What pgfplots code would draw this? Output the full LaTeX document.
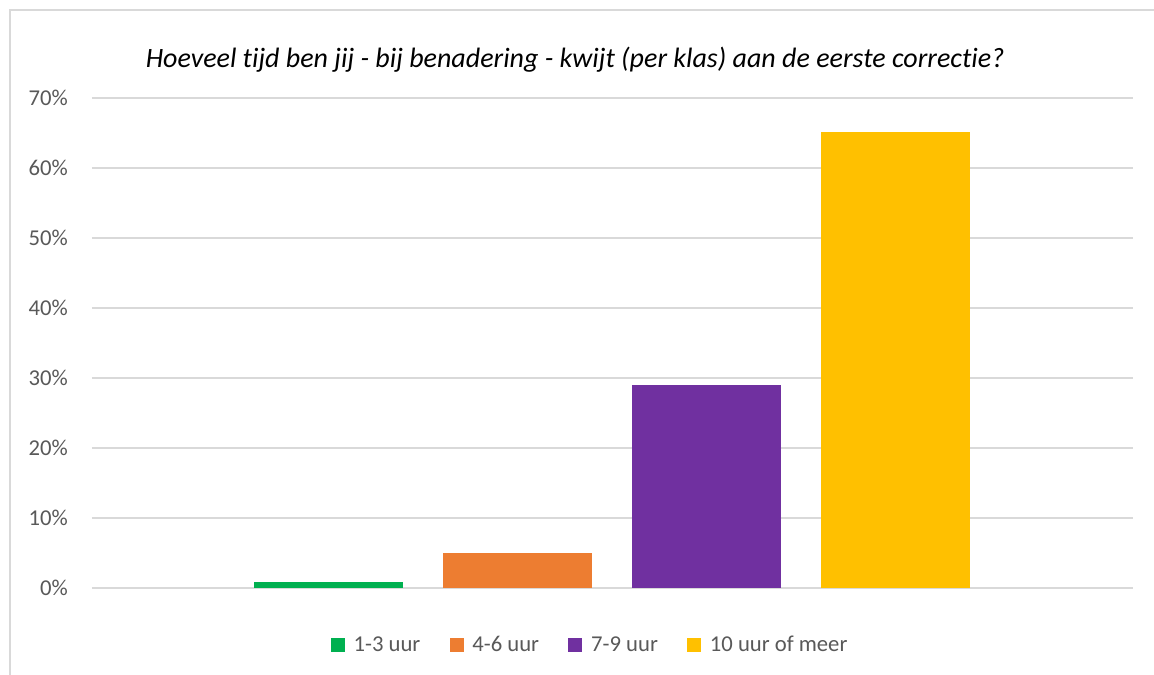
\documentclass[border=0pt]{standalone}
\usepackage{pgfplots}
\pgfplotsset{compat=1.18}
\usepackage{fontspec}
\setmainfont{Carlito}[Ligatures=CommonOff]
\definecolor{cgreen}{HTML}{00B050}
\definecolor{corange}{HTML}{ED7D31}
\definecolor{cpurple}{HTML}{7030A0}
\definecolor{cyellow}{HTML}{FFC000}
\definecolor{cgrid}{HTML}{D9D9D9}
\definecolor{ctext}{HTML}{595959}
\begin{document}
\begin{tikzpicture}
\path[use as bounding box] (0pt,0pt) rectangle (865.5pt,506.25pt);
\draw[cgrid, line width=1.1pt] (7.5pt,0pt) -- (7.5pt,498.75pt) -- (866pt,498.75pt);
\node[font=\fontsize{21}{25}\selectfont\itshape, text=black] at (431.25pt,461.25pt) {Hoeveel tijd ben jij - bij benadering - kwijt (per klas) aan de eerste correctie?};
\begin{axis}[
  at={(69pt,65.25pt)}, anchor=south west,
  scale only axis,
  width=780.75pt, height=367.5pt,
  xmin=92, xmax=1133, ymin=0, ymax=70,
  ytick={0,10,...,70},
  xtick=\empty,
  axis line style={draw=none},
  ymajorgrids, grid style={cgrid, line width=0.9pt},
  major tick length=0pt,
  /pgf/number format/assume math mode=true,
  yticklabel={\pgfmathprintnumber{\tick}\%},
  yticklabel style={font=\fontsize{17}{20}\selectfont, text=ctext, anchor=east, inner sep=0pt, xshift=-18pt},
  ybar, bar shift=0pt, bar width=149,
  legend columns=4,
  legend style={at={(0.4789,-0.1163)}, anchor=center, draw=none, font=\fontsize{17}{20}\selectfont, text=ctext,
    /tikz/every odd column/.append style={column sep=4.5pt},
    /tikz/every even column/.append style={column sep=20pt}, inner sep=0pt},
  legend image code/.code={\fill[#1] (0pt,-5.25pt) rectangle (10.5pt,5.25pt);},
]
\addplot[fill=cgreen, draw=none] coordinates {(328.5,0.9)};
\addplot[fill=corange, draw=none] coordinates {(517.5,5)};
\addplot[fill=cpurple, draw=none] coordinates {(706.5,29)};
\addplot[fill=cyellow, draw=none] coordinates {(895.5,65.1)};
\legend{1-3 uur, 4-6 uur, 7-9 uur, 10 uur of meer}
\end{axis}
\end{tikzpicture}
\end{document}
